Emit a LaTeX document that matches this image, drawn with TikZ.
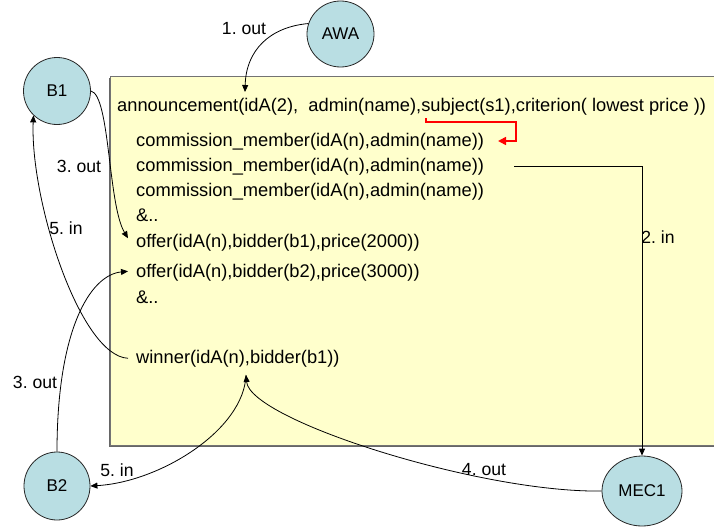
\documentclass[tikz,border=0pt]{standalone}
\usepackage{fontspec}
\setmainfont{Liberation Sans}
\usetikzlibrary{arrows.meta,shapes.geometric}
\definecolor{boxfill}{RGB}{255,255,204}
\definecolor{agentfill}{RGB}{185,222,227}
\frenchspacing
\begin{document}
\begin{tikzpicture}[x=1pt,y=-1pt,
  agent/.style={ellipse,draw=black!85,line width=0.8pt,fill=agentfill,inner sep=0pt,
                font=\fontsize{17}{20}\selectfont},
  tuple/.style={anchor=base west,inner sep=0pt,font=\fontsize{18.3}{22}\selectfont},
  lbl/.style={inner sep=0pt,font=\fontsize{17.6}{21}\selectfont},
  flow/.style={draw=black,line width=0.8pt,-{Triangle[length=7pt,width=6pt]}},
  plain/.style={draw=black,line width=0.8pt}]
\useasboundingbox (0,0) rectangle (714,527);

% tuple space board with its shadow
\fill[black!60] (109,77.5) rectangle (730,447);
\draw[fill=boxfill,draw=black!55,line width=0.6pt] (110.5,76) rectangle (730,445);

% agents
\node[agent,minimum width=67pt,minimum height=66pt] (awa) at (340.5,34) {AWA};
\node[agent,minimum width=67pt,minimum height=67pt] (b1) at (57,91) {B1};
\node[agent,minimum width=66pt,minimum height=68pt] (b2) at (57,486) {B2};
\node[agent,minimum width=80pt,minimum height=70pt] (mec) at (642,491) {MEC1};

% tuples
\node[tuple] (ann) at (117,111) {announcement(idA(2),\ \ admin(name),subject(s1),criterion( lowest price ))};
\node[tuple] (cm1) at (136,146) {commission\_member(idA(n),admin(name))};
\node[tuple] (cm2) at (136,171) {commission\_member(idA(n),admin(name))};
\node[tuple] (cm3) at (136,196) {commission\_member(idA(n),admin(name))};
\node[tuple] (amp1) at (136,221) {\&..};
\node[tuple] (of1) at (136,247) {offer(idA(n),bidder(b1),price(2000))};
\node[tuple] (of2) at (136,277) {offer(idA(n),bidder(b2),price(3000))};
\node[tuple] (amp2) at (136,303) {\&..};
\node[tuple] (win) at (136,363) {winner(idA(n),bidder(b1))};

% connector end points on the board
\coordinate (annTip) at (245,92);
\coordinate (of1Tip) at ([xshift=-8pt,yshift=4pt]of1.west);
\coordinate (of2Tip) at ([xshift=-8pt,yshift=1pt]of2.west);
\coordinate (winOut) at ([xshift=-8pt]win.west);
\coordinate (winBot) at ([xshift=110pt,yshift=-12pt]win.base west);
\coordinate (subjA) at (426,118);
\coordinate (subjB) at (426,122);
\coordinate (subjC) at (516,122);
\coordinate (subjD) at (516,141);
\coordinate (subjE) at (498,141);

% red reference arrow
\draw[red,line width=1.6pt,-{Triangle[length=8pt,width=8pt]}]
  (subjA) -- (subjB) -- (subjC) -- (subjD) -- (subjE);

% interactions
\draw[flow] (awa.162) .. controls (270,27) and (246,50) .. (annTip);
\draw[flow] (b1.east) .. controls (110,95) and (108,205) .. (of1Tip);
\draw[flow] (winOut) .. controls (80,356) and (30,200) .. (b1.-134);
\draw[flow] (b2.north) .. controls (57,330) and (90,275) .. (of2Tip);
\draw[flow] (winBot) .. controls (244,430) and (160,482) .. (b2.east);
\draw[flow] (mec.west) .. controls (480,493) and (250,420) .. (winBot);
\draw[flow] ([xshift=30pt]cm2.east) -| (mec.north);

% labels
\node[lbl] (l1) at (244,29) {1. out};
\node[lbl] (l3a) at (79,166) {3. out};
\node[lbl] (l5a) at (66,228) {5. in};
\node[lbl] (l2) at (658,237) {2. in};
\node[lbl] (l3b) at (35,382) {3. out};
\node[lbl] (l5b) at (117,470) {5. in};
\node[lbl] (l4) at (484,470) {4. out};
\end{tikzpicture}
\end{document}
